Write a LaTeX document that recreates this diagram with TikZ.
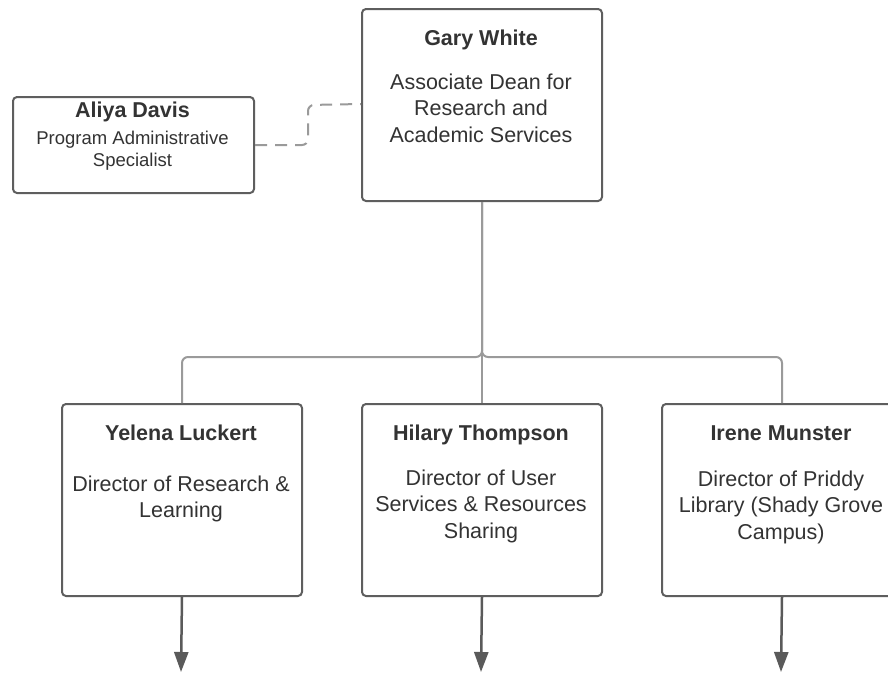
\documentclass[tikz,border=0pt]{standalone}
\usepackage{fontspec}
\setmainfont{Liberation Sans}
\usetikzlibrary{arrows.meta}
\definecolor{boxline}{HTML}{5E5E5E}
\definecolor{connline}{HTML}{9A9A9A}
\definecolor{arrowline}{HTML}{5A5A5A}
\definecolor{txt}{HTML}{333333}
\tikzset{
  orgbox/.style={draw=boxline, line width=2pt, rounded corners=4pt, fill=white, minimum width=240pt, minimum height=192pt, inner sep=0pt, anchor=north west},
  smallbox/.style={orgbox, minimum width=241pt, minimum height=96pt},
  namelbl/.style={text=txt, font=\fontsize{21.5}{26}\selectfont\bfseries, inner sep=0pt, anchor=base},
  rolelbl/.style={text=txt, font=\fontsize{21.5}{26.5}\selectfont, align=center, inner sep=0pt},
  smallrole/.style={text=txt, font=\fontsize{18.5}{22.5}\selectfont, align=center, inner sep=0pt},
  conn/.style={draw=connline, line width=2pt, rounded corners=6pt},
  dashconn/.style={draw=connline, line width=2pt, rounded corners=6pt, dash pattern=on 12pt off 8pt},
  downarrow/.style={draw=arrowline, line width=2.5pt, -{Triangle[length=20pt,width=14pt]}}
}
\begin{document}
\begin{tikzpicture}[x=1pt,y=-1pt]
\clip (0,0) rectangle (888,673);
\fill[white] (0,0) rectangle (888,673);
% boxes
\node[orgbox] (gary) at (361,8) {};
\node[smallbox] (aliya) at (12,96) {};
\node[orgbox] (yelena) at (61,403) {};
\node[orgbox] (hilary) at (361,403) {};
\node[orgbox] (irene) at (661,403) {};
% texts
\node[namelbl] (garyname) at (481,45) {Gary White};
\node[rolelbl] (garyrole) at (481,108) {Associate Dean for\\Research and\\Academic Services};
\node[namelbl] (aliyaname) at (132.5,117) {Aliya Davis};
\node[smallrole] (aliyarole) at (132.5,150.5) {Program Administrative\\Specialist};
\node[namelbl] (yelenaname) at (181,440) {Yelena Luckert};
\node[rolelbl] (yelenarole) at (181,499) {Director of Research \&\\Learning};
\node[namelbl] (hilaryname) at (481,440) {Hilary Thompson};
\node[rolelbl] (hilaryrole) at (481,506) {Director of User\\Services \& Resources\\Sharing};
\node[namelbl] (irenename) at (781,440) {Irene Munster};
\node[rolelbl] (irenerole) at (781,507) {Director of Priddy\\Library (Shady Grove\\Campus)};
% connectors
\draw[conn] (gary.south) -- (hilary.north);
\draw[conn] (gary.south) -- ++(0,155) -| (yelena.north);
\draw[conn] (gary.south) -- ++(0,155) -| (irene.north);
\draw[dashconn] (aliya.east) -- ++(53,0) -- ++(0,-40) -- ([yshift=-96pt]gary.north west);
% outgoing arrows
\coordinate (yend) at (181,672);
\coordinate (hend) at (481,672);
\coordinate (iend) at (781,672);
\draw[downarrow] (yelena.south) -- (yend);
\draw[downarrow] (hilary.south) -- (hend);
\draw[downarrow] (irene.south) -- (iend);
\end{tikzpicture}
\end{document}
